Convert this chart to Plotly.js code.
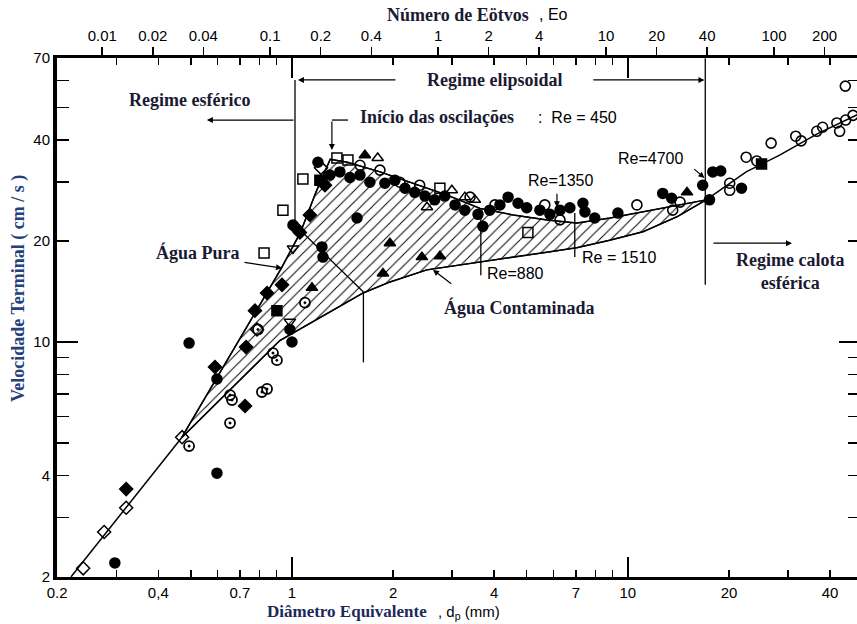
<!DOCTYPE html>
<html><head><meta charset="utf-8">
<script src="https://cdn.plot.ly/plotly-3.0.1.min.js"></script>
<style>html,body{margin:0;padding:0;overflow:hidden;background:#fff}#chart{width:860px;height:624px}</style>
</head><body><div id="chart"></div>
<script>
// ---------- axis values ----------
const dMin = 0.2, dMax = 49.1;          // diameter range (mm)
const vMin = 2, vMax = 70;              // velocity range (cm/s)
const EO_PER_MM2 = 0.1348;              // Eo = 0.1348 * d^2 (water, d in mm)
const dTickVals = [0.2,0.3,0.4,0.5,0.6,0.7,0.8,0.9,1,2,3,4,5,6,7,8,9,10,20,30,40];
const dTickText = ['0.2','','0,4','','','0.7','','','1','2','','4','','','7','','','10','20','','40'];
const dLongTicks = [1,10];
const vTickVals = [2,3,4,5,6,7,8,9,10,20,30,40,50,60,70];
const vTickText = ['2','','4','','','','','','10','20','','40','','','70'];
const vLongTicks = [10];
const eoTickVals = [0.01,0.02,0.04,0.1,0.2,0.4,1,2,4,10,20,40,100,200];
const eoTickText = ['0.01','0.02','0.04','0.1','0.2','0.4','1','2','4','10','20','40','100','200'];

// ---------- curves ----------
const sharedD = [0.22, 0.47];
const sharedV = [2.0, 5.2];
const pureD = [0.47, 0.70, 0.93, 1.06, 1.18, 1.30, 1.46, 1.83, 2.29, 2.89, 3.63, 4.55, 5.74, 7.05, 8.84, 12.4, 17.1];
const pureV = [5.2, 10.2, 16.6, 21.2, 28.0, 35.0, 34.3, 32.1, 29.7, 27.4, 25.0, 23.9, 23.1, 22.6, 23.4, 24.9, 26.5];
const contD = [0.47, 0.92, 1.63, 1.96, 2.52, 3.63, 4.55, 5.74, 7.05, 8.84, 11.1, 14.0, 17.1];
const contV = [5.2, 10.1, 14.0, 15.1, 16.4, 17.3, 17.9, 18.5, 19.1, 20.1, 21.3, 23.6, 26.5];
const mergedD = [17.1, 22.5, 28.3, 36.5, 49.1];
const mergedV = [26.5, 32.1, 36.0, 41.6, 47.9];

// ---------- data points ----------
const sqOpenD = [0.826, 0.940, 1.078, 1.361, 1.468, 2.757, 5.04];
const sqOpenV = [18.4, 24.7, 30.6, 35.3, 34.8, 28.7, 21.2];
const sqFillD = [1.211, 0.902, 25.0];
const sqFillV = [30.3, 12.4, 33.9];
const circFillD = [0.297,0.494,0.598,0.598,1.0,0.986,1.195,1.007,1.228,1.237,1.562,1.297,1.389,1.488,1.594,1.706,1.891,2.026,2.17,2.32,2.49,2.66,2.85,3.06,3.27,3.58,3.88,4.16,4.40,4.71,5.0,5.47,5.86,6.28,6.72,7.35,7.45,7.97,9.34,12.7,13.5,16.7,17.9,17.5,21.8,18.9,3.70];
const circFillV = [2.2,9.93,7.76,4.07,10.0,10.9,34.3,22.3,19.2,17.9,23.4,31.4,32.1,30.9,31.4,29.9,29.7,30.3,28.7,27.9,27.2,26.5,27.2,25.6,24.7,24.0,24.7,25.6,27.0,25.9,25.1,24.7,24.0,24.7,25.1,25.9,24.4,23.4,24.2,27.7,26.8,29.3,32.1,26.5,28.7,32.3,22.1];
const circOpenD = [1.594,1.828,2.096,2.40,3.39,4.02,5.66,6.28,10.64,13.6,14.3,20.1,20.1,22.5,24.2,26.7,31.6,32.8,36.5,38.0,41.9,42.7,44.5,46.8,44.4];
const circOpenV = [33.6,32.5,29.9,29.3,27.0,25.6,25.6,23.1,25.6,24.7,26.1,29.7,28.3,35.5,34.6,39.1,41.0,39.7,42.4,43.6,44.9,42.4,45.8,47.3,57.8];
const circHalfD = [0.494,0.654,0.663,0.654,0.814,0.843,0.878,0.902,1.093,0.792];
const circHalfV = [4.90,6.95,6.72,5.74,7.10,7.25,9.27,8.83,13.1,10.9];
const diaFillD = [0.321,0.590,0.725,0.730,0.776,0.843,0.934,1.021,1.056,1.131,1.254];
const diaFillV = [3.65,8.43,6.45,9.66,12.4,14.0,14.8,22.0,21.2,23.9,29.3];
const diaOpenD = [0.239,0.276,0.321,0.471,0.787,1.220];
const diaOpenV = [2.12,2.72,3.21,5.21,10.9,33.0];
const triFillD = [1.147,1.866,1.957,2.437,2.757,1.649,15.0];
const triFillV = [14.5,16.0,19.7,17.9,18.0,36.0,27.9];
const triOpenD = [1.80,2.993,3.272,3.504,2.523];
const triOpenV = [35.3,28.3,27.0,26.5,25.2];
const triDownD = [1.007,0.986];
const triDownV = [19.0,11.5];

// ---------- build ----------
const L = Math.log10;
const BLACK = '#000';
const hatchX = pureD.concat(contD.slice().reverse());
const hatchY = pureV.concat(contV.slice().reverse());
const mergedEo = mergedD.map(function (d) { return EO_PER_MM2 * d * d; });

function pts(x, y, symbol, lw) {
  return {type:'scatter', mode:'markers', x:x, y:y, xaxis:'x', yaxis:'y', hoverinfo:'x+y',
    marker:{symbol:symbol, size:10, color:BLACK, line:{color:BLACK, width:lw||1.5}}};
}

const traces = [
  {type:'scatter', mode:'lines', x:hatchX, y:hatchY, fill:'toself', fillcolor:'white',
   fillpattern:{shape:'/', size:8, solidity:0.12, fgcolor:BLACK, bgcolor:'white'},
   line:{color:BLACK, width:1.3}, hoverinfo:'skip'},
  // single line below the fork (drawn against the long-tick y axis, same scale)
  {type:'scatter', mode:'lines', x:sharedD, y:sharedV, xaxis:'x', yaxis:'y3', line:{color:BLACK, width:1.5}, hoverinfo:'skip'},
  {type:'scatter', mode:'lines', x:pureD, y:pureV, line:{color:BLACK, width:1.5}, hoverinfo:'skip'},
  // contaminated curve (drawn against the long-tick x axis, same scale)
  {type:'scatter', mode:'lines', x:contD, y:contV, xaxis:'x3', yaxis:'y', line:{color:BLACK, width:1.5}, hoverinfo:'skip'},
  // merged curve, expressed in Eötvös number on the top axis
  {type:'scatter', mode:'lines', x:mergedEo, y:mergedV, xaxis:'x2', yaxis:'y', line:{color:BLACK, width:1.5}, hoverinfo:'skip'},
  pts(sqOpenD, sqOpenV, 'square-open'),
  pts(sqFillD, sqFillV, 'square'),
  pts(circFillD, circFillV, 'circle'),
  pts(circOpenD, circOpenV, 'circle-open', 1.6),
  pts(circHalfD, circHalfV, 'circle-open-dot', 1.8),
  pts(diaFillD, diaFillV, 'diamond'),
  pts(diaOpenD, diaOpenV, 'diamond-open'),
  pts(triFillD, triFillV, 'triangle-up'),
  pts(triOpenD, triOpenV, 'triangle-up-open'),
  pts(triDownD, triDownV, 'triangle-down-open')
];

const xr = [L(dMin) - 0.0005, L(dMax)];
const yr = [L(vMin) - 0.0005, L(vMax) + 0.0005];
const eor = [L(EO_PER_MM2) + 2 * xr[0], L(EO_PER_MM2) + 2 * xr[1]];

const SERIF = 'Liberation Serif, Times New Roman, serif';
const SANS = 'Liberation Sans, Arial, sans-serif';
const TXT = '#1a1a33';

function lbl(d, v, text, opts) {
  return Object.assign({xref:'x', yref:'y', x:L(d), y:L(v), text:text, showarrow:false,
    xanchor:'center', yanchor:'middle',
    font:{family:SERIF, size:18, color:TXT, weight:'bold'}}, opts || {});
}
function sansLbl(d, v, text, opts) {
  return Object.assign({xref:'x', yref:'y', x:L(d), y:L(v), text:text, showarrow:false,
    xanchor:'center', yanchor:'middle',
    font:{family:SANS, size:16, color:BLACK}}, opts || {});
}
function arrow(d0, v0, d1, v1) {
  return {xref:'x', yref:'y', axref:'x', ayref:'y', ax:L(d0), ay:L(v0), x:L(d1), y:L(v1),
    text:'', showarrow:true, arrowhead:2, arrowsize:1, arrowwidth:1.2, arrowcolor:BLACK, standoff:0, startstandoff:0};
}
function seg(d0, v0, d1, v1) {
  return {type:'line', xref:'x', yref:'y', x0:d0, y0:v0, x1:d1, y1:v1, line:{color:BLACK, width:1.3}};
}
function paperTxt(x, y, text, font, opts) {
  return Object.assign({xref:'paper', yref:'paper', x:x, y:y, text:text, showarrow:false,
    xanchor:'center', yanchor:'middle', font:font}, opts || {});
}

const annotations = [
  lbl(0.494, 52.5, 'Regime esférico'),
  lbl(4.02, 60.3, 'Regime elipsoidal'),
  lbl(1.572, 46.7, 'Início das oscilações', {xanchor:'left'}),
  sansLbl(5.32, 46.7, ':  Re = 450', {xanchor:'left'}),
  sansLbl(6.32, 30.3, 'Re=1350'),
  sansLbl(11.7, 35.3, 'Re=4700'),
  sansLbl(3.75, 16.0, 'Re=880', {xanchor:'left'}),
  sansLbl(7.2, 17.8, 'Re = 1510', {xanchor:'left'}),
  lbl(0.525, 18.5, 'Água Pura'),
  lbl(4.77, 12.7, 'Água Contaminada'),
  lbl(30.3, 16.2, 'Regime calota<br>esférica', {align:'center'}),
  arrow(1.021, 45.8, 0.558, 45.8),
  arrow(2.053, 60.3, 1.042, 60.3),
  arrow(7.81, 60.3, 16.9, 60.3),
  arrow(17.8, 19.7, 30.8, 19.7),
  arrow(0.715, 17.3, 0.934, 16.6),
  arrow(3.01, 14.8, 2.63, 16.4),
  arrow(1.315, 45.8, 1.315, 37.3),
  arrow(6.15, 27.9, 6.15, 25.2),
  arrow(15.6, 33.0, 16.9, 30.8),
  // axis titles
  paperTxt(0.4994, 1.0829, 'Número de Eötvos', {family:SERIF, size:18, color:TXT, weight:'bold'}),
  paperTxt(0.598, 1.0829, ', Eo', {family:SANS, size:16, color:BLACK}, {xanchor:'left'}),
  paperTxt(0.3611, -0.0665, 'Diâmetro Equivalente', {family:SERIF, size:17, color:'#1c2a5a', weight:'bold'}),
  paperTxt(0.472, -0.0675, ', d<sub>p</sub> (mm)', {family:SANS, size:15, color:BLACK}, {xanchor:'left'}),
  paperTxt(-0.0486, 0.5568, 'Velocidade Terminal ( cm / s )', {family:SERIF, size:18, color:'#25407a', weight:'bold'}, {textangle:-90})
];

const shapes = [
  seg(1.021, 60.3, 1.021, 22.3),
  seg(1.021, 22.3, 1.632, 14.1),
  seg(1.632, 14.1, 1.632, 8.7),
  seg(17.0, 70, 17.0, 14.8),
  seg(1.468, 45.8, 1.315, 45.8),
  seg(3.65, 24.7, 3.65, 15.8),
  seg(6.95, 24.2, 6.95, 17.9)
];

const baseAx = {type:'log', showgrid:false, zeroline:false, color:BLACK, tickcolor:BLACK, linecolor:BLACK, tickwidth:1.5};
const layout = {
  width:860, height:624, margin:{l:57, r:0, t:58, b:47},
  paper_bgcolor:'white', plot_bgcolor:'white', showlegend:false,
  font:{family:SANS, size:15, color:BLACK},
  xaxis: Object.assign({}, baseAx, {range:xr, tickmode:'array', tickvals:dTickVals, ticktext:dTickText,
    ticks:'inside', ticklen:7, showline:true, linewidth:3, mirror:'ticks', tickfont:{family:SANS, size:15}}),
  xaxis2: Object.assign({}, baseAx, {overlaying:'x', side:'top', anchor:'y', range:eor, tickmode:'array',
    tickvals:eoTickVals, ticktext:eoTickText, ticks:'outside', ticklen:8, showline:true, linewidth:3, tickfont:{family:SANS, size:15}}),
  xaxis3: Object.assign({}, baseAx, {overlaying:'x', anchor:'y', range:xr, tickmode:'array', tickvals:dLongTicks,
    ticks:'inside', ticklen:20, showticklabels:false, showline:false, mirror:'ticks'}),
  yaxis: Object.assign({}, baseAx, {range:yr, tickmode:'array', tickvals:vTickVals, ticktext:vTickText,
    ticks:'inside', ticklen:12, showline:true, linewidth:4, mirror:'ticks', tickfont:{family:SANS, size:15}}),
  yaxis3: Object.assign({}, baseAx, {overlaying:'y', anchor:'x', range:yr, tickmode:'array', tickvals:vLongTicks,
    ticks:'inside', ticklen:21, showticklabels:false, showline:false, mirror:'ticks'}),
  annotations: annotations,
  shapes: shapes
};

Plotly.newPlot('chart', traces, layout, {displayModeBar:false, staticPlot:true});
</script></body></html>
